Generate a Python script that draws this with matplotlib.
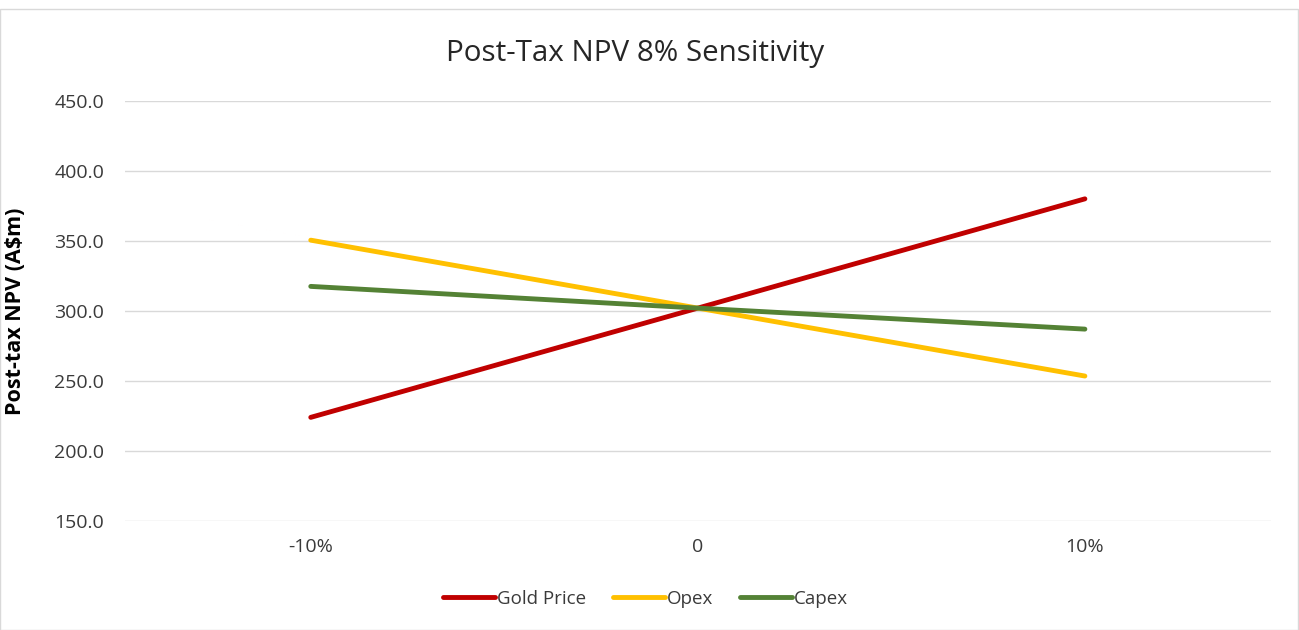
import matplotlib.pyplot as plt

# datos
categories = ['-10%', '0', '10%']
gold_price = [224.0, 302.0, 380.0]
opex = [350.5, 302.0, 253.5]
capex = [317.5, 302.0, 287.0]
y_ticks = [150, 200, 250, 300, 350, 400, 450]

plt.rcParams['font.family'] = ['Open Sans', 'DejaVu Sans']

fig = plt.figure(figsize=(12.99, 6.3), dpi=100)
ax = fig.add_axes([0.0962, 0.173, 0.882, 0.667])

x = range(len(categories))
ax.plot(x, gold_price, color='#C00000', lw=3.5, solid_capstyle='round', label='Gold Price')
ax.plot(x, opex, color='#FFC000', lw=3.5, solid_capstyle='round', label='Opex')
ax.plot(x, capex, color='#548235', lw=3.5, solid_capstyle='round', label='Capex')

ax.set_xlim(-0.48, 2.48)
ax.set_ylim(150, 450)
ax.set_yticks(y_ticks)
ax.set_yticklabels([f'{v:.1f}' for v in y_ticks])
ax.set_xticks(list(x))
ax.set_xticklabels(categories)
ax.tick_params(axis='both', length=0, labelsize=14, colors='#3A3A3A')
ax.tick_params(axis='y', pad=15)
ax.tick_params(axis='x', pad=12)
ax.grid(axis='y', color='#D9D9D9', lw=1)
ax.set_axisbelow(True)
for s in ax.spines.values():
    s.set_visible(False)

ax.set_ylabel('Post-tax NPV (A$m)', fontsize=15.5, fontweight='bold', color='black', labelpad=20)
fig.text(0.489, 0.915, 'Post-Tax NPV 8% Sensitivity', ha='center', va='center', fontsize=21.3, color='#262626')

fig.legend(loc='center', bbox_to_anchor=(0.497, 0.05), ncol=3, frameon=False, fontsize=13.5,
           handlelength=2.8, handletextpad=0.1, columnspacing=1.4, labelcolor='#3A3A3A')

# marco exterior
fig.patches.append(plt.Rectangle((0.0, 0.0), 0.999, 0.985, transform=fig.transFigure,
                                 fill=False, edgecolor='#D9D9D9', lw=1))

plt.savefig('out.png', dpi=100)
plt.close()
